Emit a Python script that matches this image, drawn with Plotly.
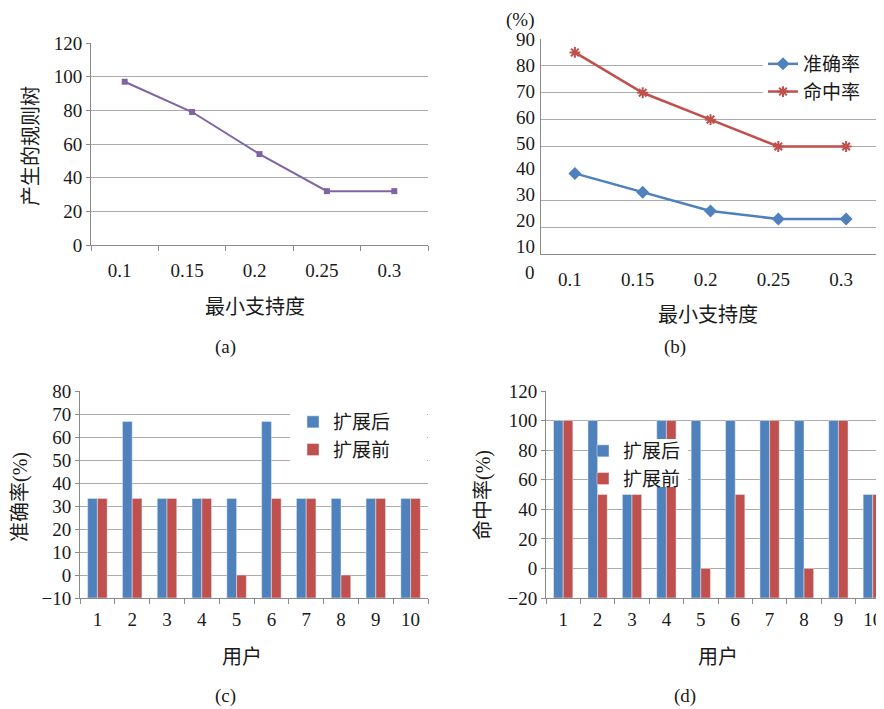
import plotly.graph_objects as go

W, H = 884, 709
PAGE_OFFSET = 8  # the page body margin shifts the figure by this many pixels

# ---------------- data ----------------
SUPPORT = ["0.1", "0.15", "0.2", "0.25", "0.3"]
RULE_TREES = [97, 79, 54, 32, 32]
ACCURACY = [40, 33, 26, 23, 23]
HIT_RATE = [85, 70, 60, 50, 50]

USERS = ["1", "2", "3", "4", "5", "6", "7", "8", "9", "10"]
ACC_AFTER = [33.3, 66.7, 33.3, 33.3, 33.3, 66.7, 33.3, 33.3, 33.3, 33.3]
ACC_BEFORE = [33.3, 33.3, 33.3, 33.3, 0, 33.3, 33.3, 0, 33.3, 33.3]
HIT_AFTER = [100, 100, 50, 100, 100, 100, 100, 100, 100, 50]
HIT_BEFORE = [100, 50, 50, 100, 0, 50, 100, 0, 100, 50]

B_GRID = [10, 20, 30, 50, 60, 70, 80, 90]
B_TICK_LABELS = ["0", "10", "20", "30", "40", "50", "60", "70", "80", "90"]

C_MIN, D_MIN = -10, -20

# ---------------- style ----------------
BLUE, RED, PURPLE = "#4F81BD", "#C0504D", "#8064A2"
GRID, AXIS, TXT = "#ababab", "#8a8a8a", "#1a1a1a"
FONT = "'Times New Roman', 'Liberation Serif', 'Noto Sans CJK SC', serif"
FS = 19
FS_TITLE = 20


def px_x(p):
    return (p - PAGE_OFFSET) / W


def px_y(p):
    return 1 - (p - PAGE_OFFSET) / H


fig = go.Figure()

# (a)
fig.add_trace(go.Scatter(x=SUPPORT, y=RULE_TREES, mode="lines+markers", xaxis="x", yaxis="y",
                         line=dict(color=PURPLE, width=2),
                         marker=dict(symbol="square", size=6, color=PURPLE),
                         showlegend=False, name="产生的规则树"))
# (b)
fig.add_trace(go.Scatter(x=SUPPORT, y=ACCURACY, mode="lines+markers", xaxis="x2", yaxis="y2",
                         name="准确率", legend="legend",
                         line=dict(color=BLUE, width=2.5),
                         marker=dict(symbol="diamond", size=10, color=BLUE)))
fig.add_trace(go.Scatter(x=SUPPORT, y=HIT_RATE, mode="lines+markers", xaxis="x2", yaxis="y2",
                         name="命中率", legend="legend",
                         line=dict(color=RED, width=2.5),
                         marker=dict(symbol="asterisk-open", size=9, color=RED,
                                     line=dict(color=RED, width=2))))
# (c)
fig.add_trace(go.Bar(x=USERS, y=[v - C_MIN for v in ACC_AFTER], base=C_MIN, name="扩展后",
                     marker_color=BLUE, xaxis="x3", yaxis="y3", legend="legend2"))
fig.add_trace(go.Bar(x=USERS, y=[v - C_MIN for v in ACC_BEFORE], base=C_MIN, name="扩展前",
                     marker_color=RED, xaxis="x3", yaxis="y3", legend="legend2"))
# (d)
fig.add_trace(go.Bar(x=USERS, y=[v - D_MIN for v in HIT_AFTER], base=D_MIN, name="扩展后",
                     marker_color=BLUE, xaxis="x4", yaxis="y4", legend="legend3"))
fig.add_trace(go.Bar(x=USERS, y=[v - D_MIN for v in HIT_BEFORE], base=D_MIN, name="扩展前",
                     marker_color=RED, xaxis="x4", yaxis="y4", legend="legend3"))

tickfont = dict(family=FONT, size=FS, color=TXT)


def xax(domain, anchor, rng, ticks=True, shift=0, standoff=6):
    return dict(domain=domain, anchor=anchor, type="category", range=rng, automargin=False,
                showline=True, linecolor=AXIS, linewidth=1, showgrid=False, zeroline=False,
                ticks="outside" if ticks else "", tickson="boundaries", ticklen=5, tickcolor=AXIS,
                tickfont=tickfont, ticklabelshift=shift, ticklabelstandoff=standoff)


def yax(domain, anchor, rng, dtick, labels=True, ticks=True):
    return dict(domain=domain, anchor=anchor, range=rng, dtick=dtick, automargin=False,
                showline=True, linecolor=AXIS, linewidth=1, showgrid=True, gridcolor=GRID,
                gridwidth=1, zeroline=False, ticks="outside" if ticks else "", ticklen=4,
                tickcolor=AXIS, tickfont=tickfont, showticklabels=labels)


ya_b = yax([px_y(254), px_y(39)], "x2", [10, 90], None, labels=False, ticks=False)
ya_b.update(tickmode="array", tickvals=B_GRID)

CLEAR = "rgba(0,0,0,0)"


def legend_at(text_x, mid_y):
    return dict(x=px_x(text_x - 38), y=px_y(mid_y), xanchor="left", yanchor="middle",
                bgcolor=CLEAR, font=dict(family=FONT, size=FS, color=TXT), tracegroupgap=0)


fig.update_layout(
    width=W, height=H, margin=dict(l=0, r=0, t=0, b=0, autoexpand=False),
    paper_bgcolor="white", plot_bgcolor="white",
    font=dict(family=FONT, size=FS, color=TXT),
    barmode="group", bargap=0.44, bargroupgap=0,
    xaxis=xax([px_x(91), px_x(428)], "y", [-0.5, 4.5], shift=-5, standoff=8),
    yaxis=yax([px_y(245), px_y(43)], "x", [0, 120], 20),
    xaxis2=xax([px_x(541), px_x(880)], "y2", [-0.5, 4.5], ticks=False, shift=-5, standoff=8),
    yaxis2=ya_b,
    xaxis3=xax([px_x(80), px_x(428)], "y3", [-0.5, 9.5], standoff=4),
    yaxis3=yax([px_y(598), px_y(391)], "x3", [-10, 80], 10),
    xaxis4=xax([px_x(546), px_x(890)], "y4", [-0.5, 9.5], standoff=4),
    yaxis4=yax([px_y(598), px_y(391)], "x4", [-20, 120], 20),
    legend=legend_at(801, 78),
    legend2=legend_at(331, 436),
    legend3=legend_at(621, 465),
)

# white boxes behind the legends (hide grid lines / bars like the original)
shapes = []
for x0, x1, y0, y1 in [(763, 892, 50, 108), (290, 427, 405, 470), (600, 688, 439, 487)]:
    shapes.append(dict(type="rect", xref="paper", yref="paper", x0=px_x(x0), x1=px_x(x1),
                       y0=px_y(y1), y1=px_y(y0), fillcolor="white", line=dict(width=0),
                       layer="above"))

ann = []


def text(t, x, y, angle=0, size=FS, xanchor="center"):
    ann.append(dict(text=t, x=px_x(x), y=px_y(y), xref="paper", yref="paper", showarrow=False,
                    textangle=angle, xanchor=xanchor, yanchor="middle",
                    font=dict(family=FONT, size=size, color=TXT)))


# (a)
text("产生的规则树", 31, 146, angle=-90, size=FS_TITLE)
text("最小支持度", 255, 307, size=FS_TITLE)
text("(a)", 225, 347)
# (b)
text("(%)", 520, 20)
for k, lab in enumerate(B_TICK_LABELS):
    text(lab, 537, 272 - k * 25.8, xanchor="right")
text("最小支持度", 708, 315, size=FS_TITLE)
text("(b)", 675, 347)
# (c)
text("准确率(%)", 20, 497, angle=-90, size=FS_TITLE)
text("用户", 242, 657, size=FS_TITLE)
text("(c)", 225, 696)
# (d)
text("命中率(%)", 483, 495, angle=-90, size=FS_TITLE)
text("用户", 718, 657, size=FS_TITLE)
text("(d)", 685, 696)

fig.update_layout(annotations=ann, shapes=shapes)
fig.write_html("out.html")
